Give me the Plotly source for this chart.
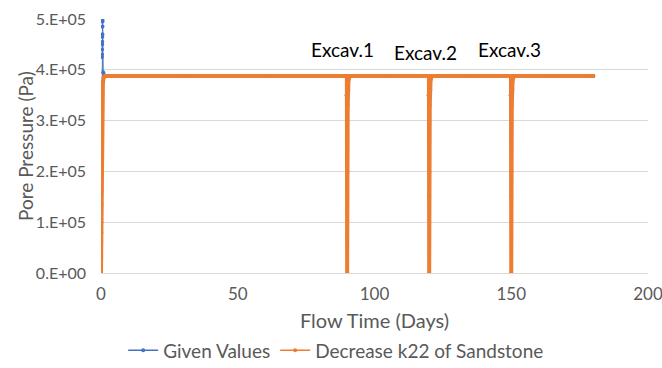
import plotly.graph_objects as go

# Data
given_t = [0.0, 0.03, 0.06, 0.09, 0.12, 0.15, 0.18, 0.21, 0.24, 0.27, 0.3, 0.33, 0.36, 0.39, 0.42, 0.45,
           0.48, 0.51, 0.54, 0.57, 0.6, 0.8, 1.2, 2.0, 89.7, 89.8, 89.9, 90.0, 90.4, 91.0,
           119.7, 119.8, 119.9, 120.0, 120.4, 121.0, 149.7, 149.8, 149.9, 150.0, 150.4, 151.0, 180.0]
given_p = [0.0, 0.3e5, 0.6e5, 1.0e5, 1.35e5, 1.7e5, 2.05e5, 2.45e5, 2.75e5, 3.25e5, 3.75e5, 4.25e5,
           4.3e5, 4.4e5, 4.5e5, 4.55e5, 4.65e5, 4.7e5, 4.85e5, 4.95e5, 5.0e5, 3.95e5, 3.9e5, 3.88e5,
           3.88e5, 3.5e5, 2.6e5, 1.5e5, 3.6e5, 3.88e5,
           3.88e5, 3.5e5, 2.6e5, 1.5e5, 3.6e5, 3.88e5,
           3.88e5, 3.5e5, 2.6e5, 1.5e5, 3.6e5, 3.88e5, 3.88e5]

k22_t = [0.0, 0.1, 0.2, 0.3, 0.4, 0.5, 0.7, 1.0, 1.5, 2.0, 30.0, 60.0, 89.9, 90.0, 90.05, 90.2, 90.5, 91.0,
         105.0, 119.9, 120.0, 120.05, 120.2, 120.5, 121.0, 135.0, 149.9, 150.0, 150.05, 150.2, 150.5, 151.0,
         165.0, 180.0]
k22_p = [0.0, 0.8e5, 1.6e5, 2.4e5, 3.1e5, 3.5e5, 3.75e5, 3.85e5, 3.88e5, 3.88e5, 3.88e5, 3.88e5, 3.88e5,
         0.0, 2.0e5, 3.3e5, 3.8e5, 3.88e5, 3.88e5, 3.88e5,
         0.0, 2.0e5, 3.3e5, 3.8e5, 3.88e5, 3.88e5, 3.88e5,
         0.0, 2.0e5, 3.3e5, 3.8e5, 3.88e5, 3.88e5, 3.88e5]

y_ticks = [0, 1e5, 2e5, 3e5, 4e5, 5e5]
y_labels = ["0.E+00", "1.E+05", "2.E+05", "3.E+05", "4.E+05", "5.E+05"]
x_ticks = [0, 50, 100, 150, 200]

notes = ["Excav.1", "Excav.2", "Excav.3"]
note_x = [88.4, 118.5, 149.4]
note_y = [4.39e5, 4.35e5, 4.39e5]

FONT = "Lato, 'Open Sans', sans-serif"
BLUE = "#4472C4"
ORANGE = "#ED7D31"

fig = go.Figure()
fig.add_trace(go.Scatter(
    x=given_t, y=given_p, name="Given Values", mode="lines+markers",
    line=dict(color=BLUE, width=1), marker=dict(color=BLUE, size=4),
    legendgroup="g", showlegend=False,
))
fig.add_trace(go.Scatter(
    x=k22_t, y=k22_p, name="Decrease k22 of Sandstone", mode="lines+markers",
    line=dict(color=ORANGE, width=4), marker=dict(color=ORANGE, size=4),
    legendgroup="k", showlegend=False,
))
# legend entries (thin line + marker, as in the reference legend)
fig.add_trace(go.Scatter(
    x=[None], y=[None], name="Given Values", mode="lines+markers",
    line=dict(color=BLUE, width=1.5), marker=dict(color=BLUE, size=4), legendgroup="g",
))
fig.add_trace(go.Scatter(
    x=[None], y=[None], name="Decrease k22 of Sandstone", mode="lines+markers",
    line=dict(color=ORANGE, width=1.5), marker=dict(color=ORANGE, size=4), legendgroup="k",
))

for t, x, y in zip(notes, note_x, note_y):
    fig.add_annotation(x=x, y=y, text=t, showarrow=False,
                       font=dict(family=FONT, size=19, color="#000000"),
                       xanchor="center", yanchor="middle")

# y-axis title placed as rotated text
fig.add_annotation(xref="paper", yref="paper", x=-0.139, y=0.5, text="Pore Pressure (Pa)",
                   textangle=-90, showarrow=False, xanchor="center", yanchor="middle",
                   font=dict(family=FONT, size=19, color="#595959"))

fig.update_layout(
    width=662, height=368,
    margin=dict(l=101, r=14, t=19, b=95, autoexpand=False),
    paper_bgcolor="white", plot_bgcolor="white",
    font=dict(family=FONT, color="#595959"),
    showlegend=True,
    legend=dict(orientation="h", x=0.43, xanchor="center", y=-0.305, yanchor="middle",
                font=dict(family=FONT, size=19, color="#595959"),
                itemwidth=30, tracegroupgap=0, bgcolor="rgba(0,0,0,0)"),
    xaxis=dict(range=[0, 200], tickvals=x_ticks, showgrid=False, zeroline=False,
               showline=True, linecolor="#d9d9d9", linewidth=1, automargin=False,
               ticks="", ticklabelstandoff=6, ticklabeloverflow="allow",
               tickfont=dict(family=FONT, size=17, color="#595959"),
               title=dict(text="Flow Time (Days)", font=dict(family=FONT, size=20, color="#595959"),
                          standoff=10)),
    yaxis=dict(range=[0, 5e5], tickvals=y_ticks, ticktext=y_labels, showgrid=True,
               gridcolor="#d9d9d9", gridwidth=1, zeroline=False, showline=False, automargin=False,
               ticks="", ticklabelstandoff=14, ticklabeloverflow="allow",
               tickfont=dict(family=FONT, size=16, color="#595959")),
)

fig.write_html("out.html")
